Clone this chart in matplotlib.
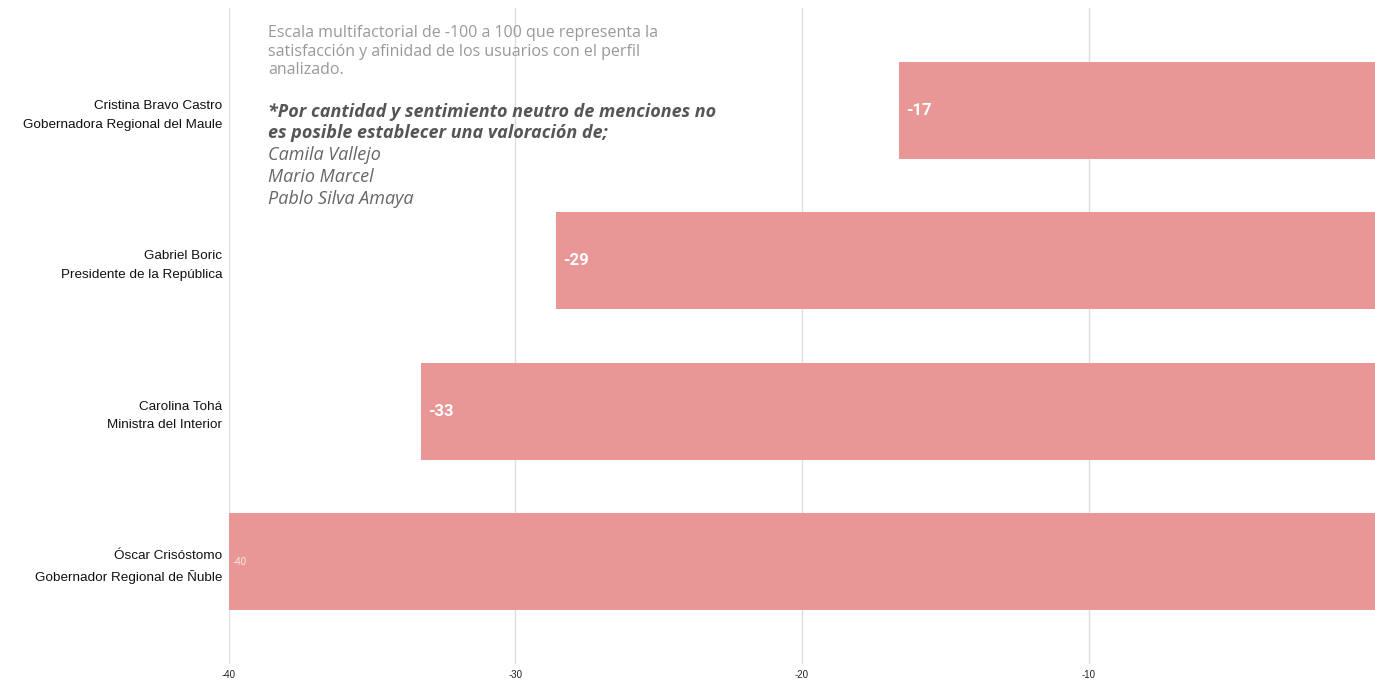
import matplotlib.pyplot as plt

# --- Data ---
names = ['Cristina Bravo Castro\nGobernadora Regional del Maule',
         'Gabriel Boric\nPresidente de la República',
         'Carolina Tohá\nMinistra del Interior',
         'Óscar Crisóstomo\nGobernador Regional de Ñuble']
values = [-16.6, -28.6, -33.3, -40]
labels = ['-17', '-29', '-33', '-40']
ticks = [-40, -30, -20, -10]

note_gray = ['Escala multifactorial de -100 a 100 que representa la',
             'satisfacción y afinidad de los usuarios con el perfil',
             'analizado.']
note_bold = ['*Por cantidad y sentimiento neutro de menciones no',
             'es posible establecer una valoración de;']
note_names = ['Camila Vallejo', 'Mario Marcel', 'Pablo Silva Amaya']

# --- Plot ---
fig = plt.figure(figsize=(13.75, 6.81), dpi=100)
ax = fig.add_axes([229 / 1375, 1 - 664 / 681, 1 - 229 / 1375, 656 / 681])

pos = list(range(len(names)))
ax.barh(pos, values, height=0.645, color='#e89796', zorder=2)
ax.set_xlim(-40, 0)
ax.set_ylim(3.68, -0.68)

ax.set_yticks(pos)
ax.set_yticklabels(names, fontsize=9.7, family='Liberation Sans', color='#111111')
for lbl in ax.get_yticklabels():
    lbl.set_linespacing(1.75)
ax.set_xticks(ticks)
ax.set_xticklabels([str(t) for t in ticks], fontsize=7, family='Liberation Sans', color='#222222')
ax.tick_params(axis='x', length=0, pad=4)
ax.tick_params(axis='y', length=0, pad=5)
ax.grid(axis='x', color='#dddddd', linewidth=1, zorder=0)
for s in ax.spines.values():
    s.set_visible(False)

for i, (v, lab) in enumerate(zip(values, labels)):
    if lab == '-40':
        ax.text(v + 0.12, i, lab, color='#fbeaea', fontsize=7, va='center',
                family='Liberation Sans', zorder=3)
    else:
        ax.text(v + 0.25, i, lab, color='white', fontsize=12, fontweight='bold',
                va='center', family='Roboto', zorder=3)

# annotation block
x0 = 268 / 1375
for k, line in enumerate(note_gray):
    fig.text(x0, 1 - (33 + 18.5 * k) / 681, line, fontsize=11.5, family='Open Sans',
             color='#999999', va='center')
for k, line in enumerate(note_bold):
    fig.text(x0, 1 - (112 + 21.5 * k) / 681, line, fontsize=13, family='Open Sans',
             fontstyle='italic', fontweight='bold', color='#555555', va='center')
for k, line in enumerate(note_names):
    fig.text(x0, 1 - (155 + 22 * k) / 681, line, fontsize=13, family='Open Sans',
             fontstyle='italic', color='#666666', va='center')

fig.savefig('out.png', dpi=100)
